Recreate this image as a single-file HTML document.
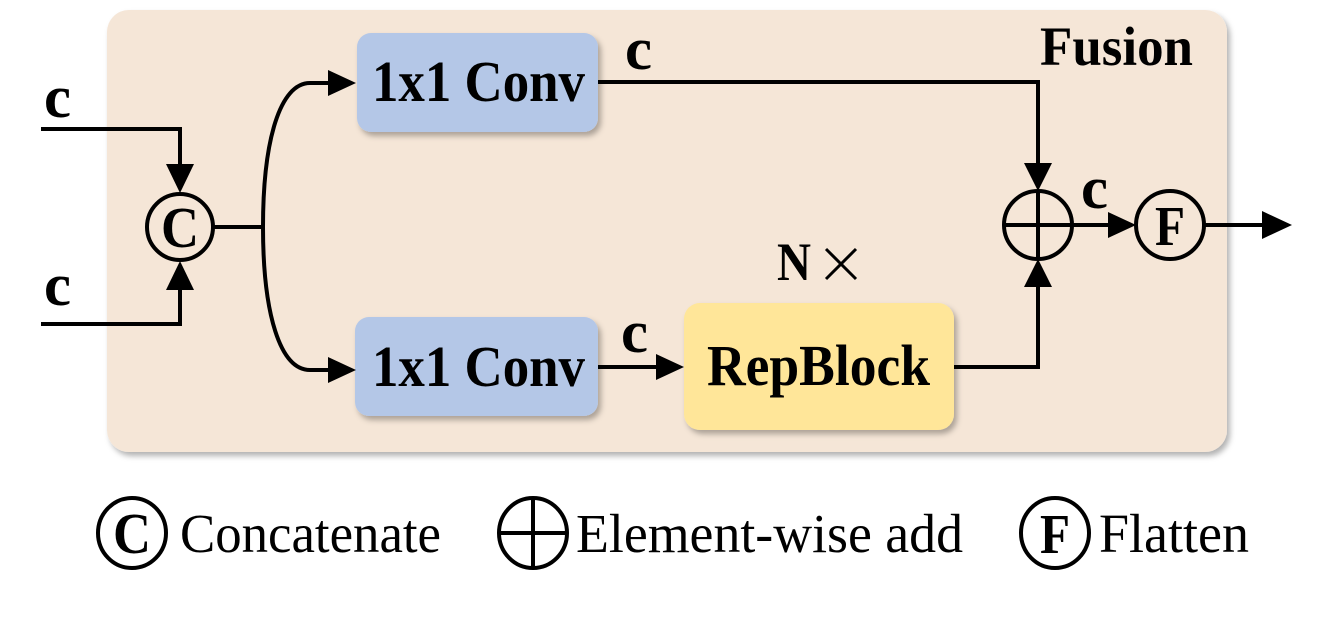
<!DOCTYPE html>
<html><head><meta charset="utf-8"><style>
html,body{margin:0;padding:0;background:#fff;}
svg{display:block;}
text{font-family:"Liberation Serif",serif;}
</style></head><body>
<svg width="1335" height="627" viewBox="0 0 1335 627" xmlns="http://www.w3.org/2000/svg">
<defs>
<filter id="sh" x="-10%" y="-10%" width="130%" height="130%">
<feDropShadow dx="3" dy="4" stdDeviation="3" flood-color="#000" flood-opacity="0.3"/>
</filter>
</defs>
<rect x="107" y="10" width="1120" height="442" rx="22" fill="#F5E6D7" filter="url(#sh)"/>
<rect x="357" y="33" width="241" height="99" rx="14" fill="#B4C7E7" filter="url(#sh)"/>
<rect x="355" y="317" width="243" height="99" rx="14" fill="#B4C7E7" filter="url(#sh)"/>
<rect x="684" y="303" width="270" height="127" rx="16" fill="#FFE699" filter="url(#sh)"/>

<g font-weight="bold" fill="#000">
<text x="1040" y="65" font-size="55" textLength="153" lengthAdjust="spacingAndGlyphs">Fusion</text>
<text x="372" y="101" font-size="58" textLength="213" lengthAdjust="spacingAndGlyphs">1x1 Conv</text>
<text x="372" y="386" font-size="58" textLength="213" lengthAdjust="spacingAndGlyphs">1x1 Conv</text>
<text x="707" y="385" font-size="58" textLength="223" lengthAdjust="spacingAndGlyphs">RepBlock</text>
<text x="44" y="117" font-size="60" textLength="27" lengthAdjust="spacingAndGlyphs">c</text>
<text x="44" y="305" font-size="60" textLength="27" lengthAdjust="spacingAndGlyphs">c</text>
<text x="625" y="69" font-size="60" textLength="27" lengthAdjust="spacingAndGlyphs">c</text>
<text x="621" y="352" font-size="60" textLength="27" lengthAdjust="spacingAndGlyphs">c</text>
<text x="1081" y="208" font-size="60" textLength="27" lengthAdjust="spacingAndGlyphs">c</text>
<text x="777" y="280" font-size="54" textLength="34" lengthAdjust="spacingAndGlyphs">N</text>
</g>
<g stroke="#000" stroke-width="3">
<line x1="826" y1="249" x2="856" y2="279"/>
<line x1="856" y1="249" x2="826" y2="279"/>
</g>

<g stroke="#000" stroke-width="4" fill="none">
<polyline points="41,129 180,129 180,166"/>
<polyline points="41,324 180,324 180,290"/>
<circle cx="180" cy="227" r="33"/>
<line x1="213" y1="227" x2="263" y2="227"/>
<path d="M263,227 C263,140 280,83 310,83 L330,83"/>
<path d="M263,227 C263,314 280,370 310,370 L330,370"/>
<polyline points="598,82 1038,82 1038,165"/>
<line x1="598" y1="367" x2="658" y2="367"/>
<polyline points="954,367 1038,367 1038,285"/>
<circle cx="1038" cy="225" r="34"/>
<line x1="1004" y1="225" x2="1072" y2="225"/>
<line x1="1038" y1="191" x2="1038" y2="259"/>
<line x1="1072" y1="225" x2="1112" y2="225"/>
<circle cx="1170" cy="225" r="34"/>
<line x1="1204" y1="225" x2="1265" y2="225"/>
</g>
<g fill="#000">
<polygon points="166,164 194,164 180,193"/>
<polygon points="166,290 194,290 180,261"/>
<polygon points="328,70 328,96 356,83"/>
<polygon points="328,357 328,383 356,370"/>
<polygon points="656,354 656,380 684,367"/>
<polygon points="1024,163 1052,163 1038,191"/>
<polygon points="1024,287 1052,287 1038,259"/>
<polygon points="1108,212 1108,238 1136,225"/>
<polygon points="1262,211 1262,239 1292,225"/>
</g>
<text x="180" y="247" font-size="58" font-weight="bold" text-anchor="middle" textLength="38" lengthAdjust="spacingAndGlyphs">C</text>
<text x="1170" y="245" font-size="56" font-weight="bold" text-anchor="middle" textLength="30" lengthAdjust="spacingAndGlyphs">F</text>

<!-- legend -->
<g stroke="#000" stroke-width="4" fill="none">
<ellipse cx="132" cy="533" rx="34" ry="35"/>
<ellipse cx="533" cy="533" rx="34" ry="35"/>
<line x1="499" y1="533" x2="567" y2="533"/>
<line x1="533" y1="498" x2="533" y2="568"/>
<ellipse cx="1055" cy="533" rx="34" ry="35"/>
</g>
<text x="132" y="553" font-size="58" font-weight="bold" text-anchor="middle" textLength="38" lengthAdjust="spacingAndGlyphs">C</text>
<text x="1055" y="553" font-size="56" font-weight="bold" text-anchor="middle" textLength="30" lengthAdjust="spacingAndGlyphs">F</text>
<g font-size="55" fill="#000">
<text x="180" y="552" textLength="261" lengthAdjust="spacingAndGlyphs">Concatenate</text>
<text x="576" y="552" textLength="387" lengthAdjust="spacingAndGlyphs">Element-wise add</text>
<text x="1099" y="552" textLength="150" lengthAdjust="spacingAndGlyphs">Flatten</text>
</g>
</svg>
</body></html>
